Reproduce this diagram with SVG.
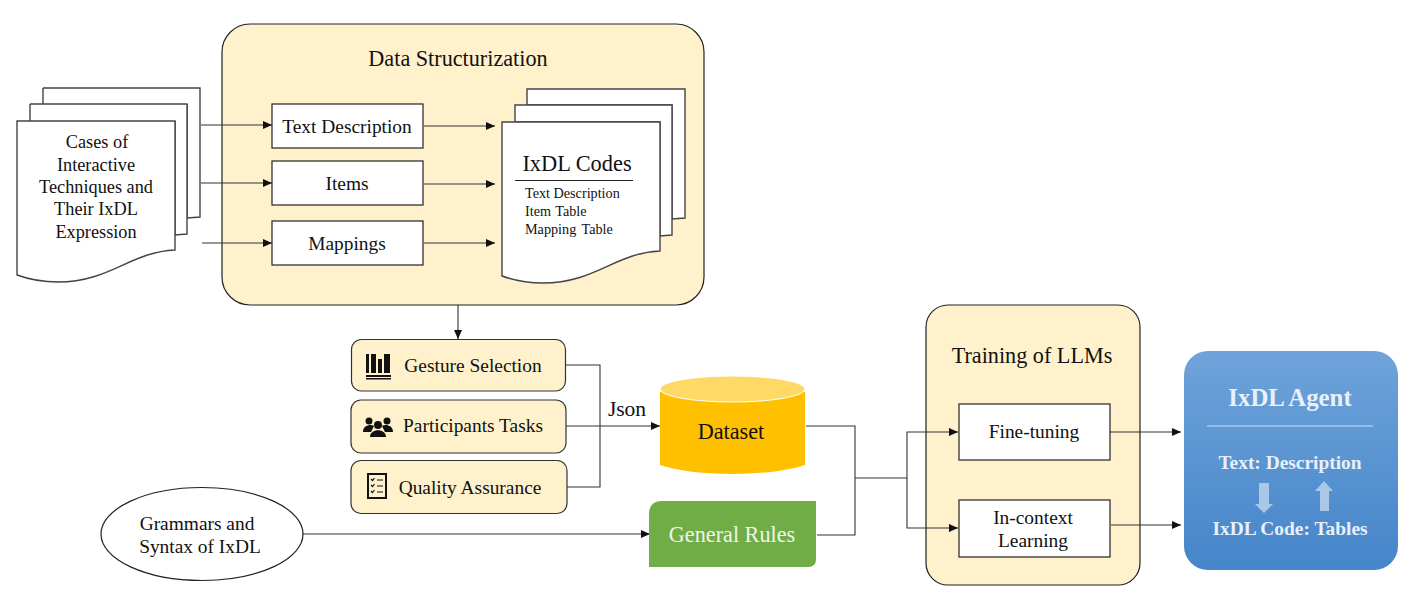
<svg xmlns="http://www.w3.org/2000/svg" width="1417" height="597" viewBox="0 0 1417 597">
<style>
text{font-family:"Liberation Serif","Times New Roman",serif;fill:#111;text-anchor:middle}
.panel{fill:#fef1cc;stroke:#222;stroke-width:1.2}
.box{fill:#fff;stroke:#222;stroke-width:1.2}
.doc{fill:#fff;stroke:#444;stroke-width:1.4}
.pill{fill:#fef1cc;stroke:#333;stroke-width:1.2}
.l{fill:none;stroke:#333;stroke-width:1.1}
.a{marker-end:url(#ah)}
.t18{font-size:18.300px}
.t19{font-size:19.400px}
.t22{font-size:22.200px}
.s{font-size:14.200px;text-anchor:start}
.w{fill:#e8f0fa;font-weight:bold;font-size:19.400px}
</style>
<defs>
<marker id="ah" markerUnits="userSpaceOnUse" markerWidth="10" markerHeight="10" refX="9" refY="5" orient="auto"><path d="M0,1L9,5L0,9Z" fill="#111"/></marker>
<linearGradient id="ag" x1="0" y1="0" x2="0" y2="1"><stop offset="0" stop-color="#6fa3da"/><stop offset="1" stop-color="#4585ca"/></linearGradient>
</defs>
<g id="panel-data"><rect class="panel" x="222" y="24" width="482" height="281" rx="28"/><text class="t22" x="458" y="66">Data Structurization</text></g>
<g id="panel-training"><rect class="panel" x="926" y="305" width="214" height="280" rx="22"/><text class="t22" x="1032" y="363">Training of LLMs</text></g>
<g id="connectors">
<path class="l a" d="M201,125H272"/><path class="l a" d="M201,183H272"/><path class="l a" d="M202,243H272"/>
<path class="l a" d="M424,126H495"/><path class="l a" d="M424,184H495"/><path class="l a" d="M424,243H495"/>
<path class="l a" d="M458,305V339"/>
<path class="l" d="M566,365H600V487H566"/><path class="l" d="M566,426H600"/><path class="l a" d="M600,426H660" stroke-width="1.800"/>
<path class="l a" d="M303,534H650"/>
<path class="l" d="M806,426H855V535H817"/><path class="l" d="M855,478H907" stroke-width="1.500"/>
<path class="l a" d="M907,478V432H958"/><path class="l a" d="M907,478V528H958"/>
<path class="l a" d="M1110,432H1181"/><path class="l a" d="M1111,525H1181"/>
</g>
<g id="doc-cases">
<path class="doc" d="M43,88H200V217L187,218V104"/><path class="doc" d="M43,88V104"/>
<path class="doc" d="M30,104H187V234L175,235V121"/><path class="doc" d="M30,104V121"/>
<path class="doc" d="M17,121H175V250C130,252 110,282 58,282C42,282 28,279 17,275Z"/>
<text class="t18" x="97" y="148">Cases of</text><text class="t18" x="96" y="171">Interactive</text><text class="t18" x="96" y="193">Techniques and</text><text class="t18" x="96" y="215">Their IxDL</text><text class="t18" x="96" y="238">Expression</text>
</g>
<g id="box-text"><rect class="box" x="272" y="104" width="151" height="44"/><text class="t19" x="347" y="133">Text Description</text></g>
<g id="box-items"><rect class="box" x="272" y="161" width="151" height="44"/><text class="t19" x="347" y="190">Items</text></g>
<g id="box-mappings"><rect class="box" x="272" y="221" width="151" height="44"/><text class="t19" x="347" y="250">Mappings</text></g>
<g id="doc-codes">
<path class="doc" d="M527,89H685V218L672,219V105H527Z"/>
<path class="doc" d="M515,105H672V235L660,236V122H515Z"/>
<path class="doc" d="M502,122H660V251C615,253 595,283 543,283C527,283 513,280 502,276Z"/>
<text x="577" y="171" font-size="22.400">IxDL Codes</text>
<path d="M515,180.500H633" stroke="#222" stroke-width="1.200" fill="none"/>
<text class="s" x="525" y="198">Text Description</text><text class="s" x="525" y="216" word-spacing="1">Item Table</text><text class="s" x="525" y="234" word-spacing="2">Mapping Table</text>
</g>
<g id="gesture-selection"><rect class="pill" x="351.500" y="339.500" width="214" height="51.500" rx="10"/>
<path d="M366,354h3v19h-3zM371,354h5v19h-5zM378,359h4v14h-4zM384,354h6v19h-6zM366,375h25v2h-25zM366,378h25v1.500h-25z" fill="#111"/>
<text class="t19" x="473" y="372">Gesture Selection</text></g>
<g id="participants-tasks"><rect class="pill" x="351" y="400" width="215" height="53" rx="10"/>
<g fill="#111"><circle cx="369" cy="421" r="3.500"/><circle cx="387" cy="421" r="3.500"/><circle cx="378" cy="425" r="4"/><path d="M363,432c0-7 8-8 11-6l-3,6zM393,432c0-7-8-8-11-6l3,6zM370,437c0-9 16-9 16,0z"/></g>
<text class="t19" x="473" y="432">Participants Tasks</text></g>
<g id="quality-assurance"><rect class="pill" x="351" y="460.500" width="216" height="53" rx="10"/>
<rect x="368" y="474" width="18" height="24" fill="none" stroke="#111" stroke-width="2"/>
<path d="M371,479l1.500,1.500l2,-2.500M371,485l1.500,1.500l2,-2.500M371,491l1.500,1.500l2,-2.500M377,480h6M377,486h6M377,492h6" fill="none" stroke="#111" stroke-width="1.200"/>
<text class="t19" x="470" y="494">Quality Assurance</text></g>
<text id="label-json" x="627" y="416" font-size="21.500">Json</text>
<g id="dataset">
<path d="M660,392V465C675,470 700,474 732,474C765,474 790,470 805,465V392Z" fill="#ffc000"/>
<ellipse cx="732.500" cy="389" rx="72.500" ry="13" fill="#ffd966" stroke="#fff" stroke-width="1"/>
<text class="t22" x="731" y="439">Dataset</text></g>
<g id="general-rules"><path d="M662,501H816V559Q816,567 808,567H649V514Q649,501 662,501Z" fill="#70ad47"/><text class="t22" x="732" y="542" style="fill:#eef5e8">General Rules</text></g>
<g id="grammars"><ellipse cx="202" cy="534" rx="101" ry="46.500" fill="#fff" stroke="#222" stroke-width="1.200"/><text class="t19" x="197" y="530">Grammars and</text><text class="t19" x="200" y="553">Syntax of IxDL</text></g>
<g id="fine-tuning"><rect class="box" x="959" y="404" width="151" height="56"/><text class="t19" x="1034" y="438">Fine-tuning</text></g>
<g id="in-context"><rect class="box" x="959" y="500" width="151" height="57"/><text class="t19" x="1033" y="524">In-context</text><text class="t19" x="1033" y="547">Learning</text></g>
<g id="ixdl-agent"><rect x="1184" y="351" width="214" height="219" rx="24" fill="url(#ag)"/>
<text class="w" x="1290" y="406" style="font-size:24.800px">IxDL Agent</text>
<path d="M1207,426H1373" stroke="#cfe0f3" stroke-width="1.200"/>
<text class="w" x="1290" y="469">Text: Description</text>
<path d="M1259,483h10v21h4l-9,9l-9,-9h4z" fill="#a9c8e8"/>
<path d="M1320,511v-20h-5l9,-10l9,10h-4v20z" fill="#a9c8e8"/>
<text class="w" x="1290" y="535">IxDL Code: Tables</text></g>
</svg>
